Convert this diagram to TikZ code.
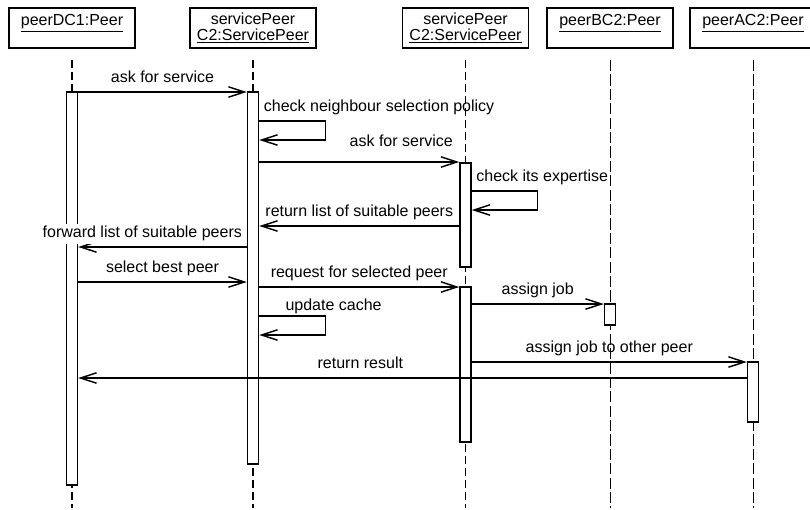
\documentclass[tikz,border=0pt]{standalone}
\usepackage{fontspec}
\setmainfont{Liberation Sans}
\usetikzlibrary{arrows.meta,fit}

\begin{document}
\begin{tikzpicture}[x=0.625pt, y=-0.625pt,
    every node/.style={font=\fontsize{10}{10}\selectfont},
    head/.style={draw, line width=0.9pt, minimum width=78.75pt, minimum height=25pt, align=center, inner sep=1pt},
    life/.style={line width=0.9pt, dash pattern=on 5pt off 2.5pt},
    thinlife/.style={line width=0.6pt, dash pattern=on 7pt off 2pt},
    act/.style={draw, fill=white, line width=0.9pt, inner sep=0pt},
    msg/.style={line width=0.9pt, -{Straight Barb[length=10pt,width=6.5pt]}},
    lbl/.style={above=1.5pt, inner sep=1pt, text depth=0.3em},
    slbl/.style={above right=1.5pt, inner sep=1pt, text depth=0.3em}]

    % Fix the page to the size of the drawing
    \useasboundingbox (0,0) rectangle (810,509);

    % Top and bottom of the lifelines
    \coordinate (top) at (0,60);
    \coordinate (bot) at (0,508);

    % The objects
    \node[head] (peerDC) at (72,28) {\underline{peerDC1:Peer}\\~};
    \node[head] (spA) at (253,28) {servicePeer\\\underline{C2:ServicePeer}};
    \node[head] (spB) at (465.5,28) {servicePeer\\\underline{C2:ServicePeer}};
    \node[head] (peerBC) at (610,28) {\underline{peerBC2:Peer}\\~};
    \node[head] (peerAC) at (753,28) {\underline{peerAC2:Peer}\\~};

    % The lifelines
    \draw[life] (peerDC |- top) -- (peerDC |- bot);
    \draw[life] (spA |- top) -- (spA |- bot);
    \draw[life] (spB |- top) -- (spB |- bot);
    \draw[thinlife] (peerBC |- top) -- (peerBC |- bot);
    \draw[thinlife] (peerAC |- top) -- (peerAC |- bot);

    % Activation bars
    \node[act, fit={(66.5,92) (77.5,485)}] (a1) {};
    \node[act, fit={(247.5,92) (258.5,464)}] (a2) {};
    \node[act, fit={(460,163) (471,267)}] (a3) {};
    \node[act, fit={(460,287) (471,442)}] (a3b) {};
    \node[act, fit={(604.5,304) (615.5,325)}] (a4) {};
    \node[act, fit={(747.5,362) (758.5,422)}] (a5) {};

    % Messages
    \draw[msg] (a1.east |- 0,92) -- node[lbl] (m1) {ask for service} (a2.west |- 0,92);
    \draw[msg] (a2.east |- 0,121) node[slbl] (m2) {check neighbour selection policy}
        -- ++(66,0) -- ++(0,19) -- (a2.east |- 0,140);
    \draw[msg] (a2.east |- 0,162) -- node[lbl, pos=0.71, yshift=4pt] (m3) {ask for service} (a3.west |- 0,162);
    \draw[msg] (a3.east |- 0,191) node[slbl] (m4) {check its expertise}
        -- ++(66,0) -- ++(0,19) -- (a3.east |- 0,210);
    \draw[msg] (a3.west |- 0,226) -- node[lbl] (m5) {return list of suitable peers} (a2.east |- 0,226);
    \draw[msg] (a2.west |- 0,247) -- node[lbl, pos=0.62, fill=white] (m6) {forward list of suitable peers} (a1.east |- 0,247);
    \draw[msg] (a1.east |- 0,282) -- node[lbl] (m7) {select best peer} (a2.west |- 0,282);
    \draw[msg] (a2.east |- 0,287) -- node[lbl] (m8) {request for selected peer} (a3b.west |- 0,287);
    \draw[msg] (a2.east |- 0,316) node[slbl, xshift=13.5pt, yshift=-2.5pt] (m9) {update cache}
        -- ++(66,0) -- ++(0,19) -- (a2.east |- 0,335);
    \draw[msg] (a3b.east |- 0,304) -- node[lbl] (m10) {assign job} (a4.west |- 0,304);
    \draw[msg] (a3b.east |- 0,362) -- node[lbl] (m11) {assign job to other peer} (a5.west |- 0,362);
    \draw[msg] (a5.west |- 0,378) -- node[lbl, pos=0.578] (m12) {return result} (a1.east |- 0,378);

\end{tikzpicture}
\end{document}
